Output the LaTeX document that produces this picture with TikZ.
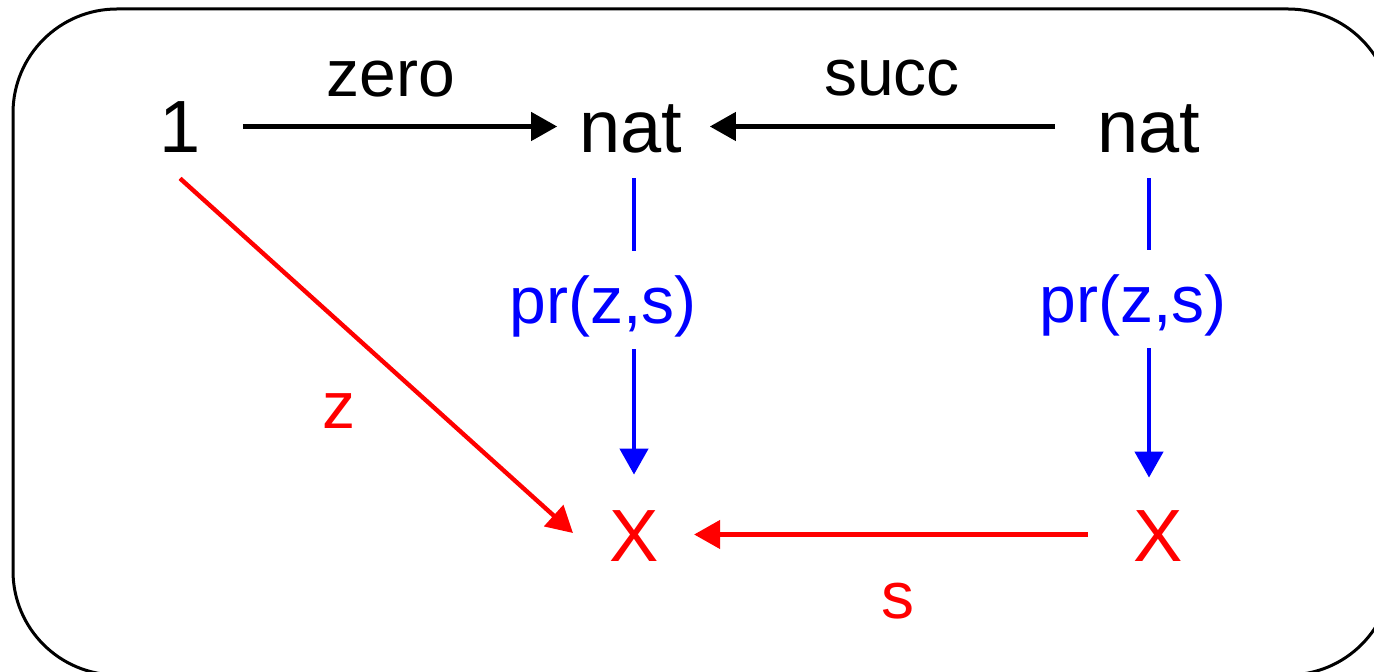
\documentclass[tikz,border=0pt]{standalone}
\usepackage{fontspec}
\setmainfont{Liberation Sans}
\usetikzlibrary{arrows.meta,calc}
\begin{document}
\begin{tikzpicture}[x=0.5pt,y=-0.5pt,
  obj/.style={font=\fontsize{37}{40}\selectfont, inner sep=0pt, text height=26.5pt, text depth=0pt, anchor=base},
  lbl/.style={font=\fontsize{33}{36}\selectfont, inner sep=0pt, anchor=base},
  prlbl/.style={lbl, blue, text height=36.5pt, text depth=12.5pt},
  conn/.style={line width=2.2pt},
  arr/.style={conn, -{Triangle[length=13pt,width=14pt]}},
  frame/.style={line width=1.5pt, rounded corners=52pt}
]
\useasboundingbox (0,0) rectangle (1374,672);
\clip (0,0) rectangle (1374,672);
\draw[frame] (13,9) rectangle (1392,675);

\node[obj] (one) at (180,153) {1};
\node[obj] (nat1) at (631,153) {nat};
\node[obj] (nat2) at (1149,153) {nat};
\node[obj,red] (X1) at (634,561) {X};
\node[obj,red] (X2) at (1158,561) {X};

\node[lbl] (zero) at (391,97) {zero};
\node[lbl] (succ) at (892,96) {succ};
\node[prlbl] (pr1) at (603,324) {pr(z,s)};
\node[prlbl] (pr2) at (1133,323) {pr(z,s)};
\node[lbl,red] (zl) at (339,429) {z};
\node[lbl,red] (sl) at (898,618) {s};

\draw[arr] ($(one.east)+(42,0)$) -- ($(nat1.west)+(-22,0)$);
\draw[arr] ($(nat2.west)+(-42,0)$) -- ($(nat1.east)+(27,0)$);

\draw[conn,blue] ($(nat1.south -| X1.north)+(0,25)$) -- (pr1.north -| X1.north);
\draw[arr,blue] (pr1.south -| X1.north) -- ($(X1.north)+(0,-33)$);
\draw[conn,blue] ($(nat2.south)+(0,25)$) -- (pr2.north -| nat2.south);
\draw[arr,blue] (pr2.south -| nat2.south) -- ($(X2.north -| nat2.south)+(0,-30)$);

\draw[arr,red] ($(one.south)+(0,25)$) -- ($(X1.west)+(-36,-1.5)$);
\draw[arr,red] ($(X2.west)+(-45,0)$) -- ($(X1.east)+(35,0)$);
\end{tikzpicture}
\end{document}
